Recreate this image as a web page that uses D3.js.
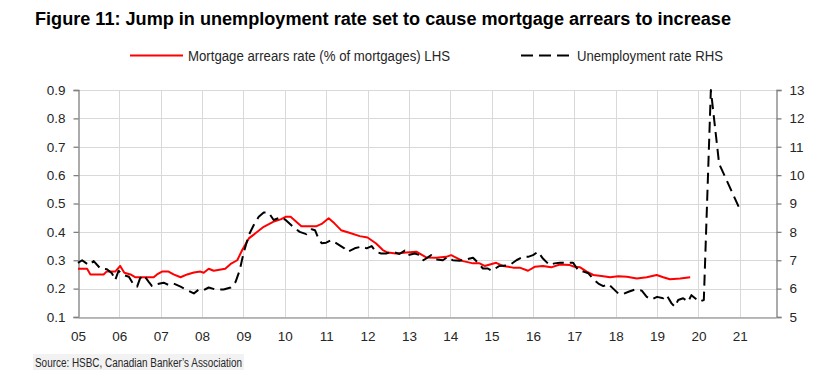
<!DOCTYPE html>
<html><head><meta charset="utf-8">
<script src="https://cdn.jsdelivr.net/npm/d3@7"></script>
<style>
html,body{margin:0;padding:0;background:#fff;}
svg{display:block;font-family:"Liberation Sans",Arial,sans-serif;}
</style></head>
<body>
<svg id="chart" width="819" height="378"></svg>
<script>
// ---- data ----
const titleText = "Figure 11: Jump in unemployment rate set to cause mortgage arrears to increase";
const sourceText = "Source: HSBC, Canadian Banker\u2019s Association";
const seriesNames = ["Mortgage arrears rate (% of mortgages) LHS", "Unemployment rate RHS"];
const xTickYears = [2005,2006,2007,2008,2009,2010,2011,2012,2013,2014,2015,2016,2017,2018,2019,2020,2021];
const xTickLabels = ["05","06","07","08","09","10","11","12","13","14","15","16","17","18","19","20","21"];
const leftTicks = [0.1,0.2,0.3,0.4,0.5,0.6,0.7,0.8,0.9];
const rightTicks = [5,6,7,8,9,10,11,12,13];

const arrearsDates = [2005.00,2005.22,2005.30,2005.62,2005.69,2005.90,2006.02,2006.12,2006.27,2006.39,2006.83,2006.91,
  2007.03,2007.19,2007.31,2007.48,2007.64,2007.80,2007.96,2008.04,2008.16,2008.28,2008.56,2008.69,2008.85,2008.97,
  2009.13,2009.29,2009.49,2009.73,2009.90,2010.02,2010.14,2010.40,2010.77,2010.89,2011.06,2011.20,2011.36,2011.56,
  2011.81,2012.00,2012.20,2012.37,2012.49,2012.69,2012.94,2013.18,2013.42,2013.66,2013.90,2014.02,2014.31,2014.55,
  2014.71,2014.83,2015.11,2015.27,2015.52,2015.68,2015.88,2016.04,2016.24,2016.44,2016.65,2016.89,2017.00,2017.14,
  2017.30,2017.46,2017.70,2017.86,2018.06,2018.27,2018.51,2018.75,2018.99,2019.15,2019.31,2019.56,2019.80];
const arrearsValues = [0.27,0.27,0.25,0.25,0.26,0.26,0.28,0.256,0.25,0.24,0.24,0.25,
  0.26,0.26,0.25,0.24,0.25,0.257,0.26,0.256,0.27,0.263,0.27,0.287,0.30,0.336,
  0.377,0.395,0.418,0.436,0.444,0.453,0.453,0.42,0.42,0.428,0.448,0.43,0.406,0.397,
  0.385,0.38,0.36,0.336,0.327,0.324,0.327,0.33,0.31,0.309,0.312,0.318,0.297,0.289,
  0.289,0.28,0.291,0.28,0.274,0.274,0.263,0.277,0.28,0.275,0.285,0.283,0.277,0.275,
  0.26,0.248,0.244,0.24,0.244,0.242,0.236,0.24,0.248,0.24,0.233,0.236,0.24];

const unempDates = [2005.00,2005.10,2005.26,2005.38,2005.54,2005.70,2005.82,2005.90,2005.98,2006.10,2006.23,2006.35,
  2006.43,2006.50,2006.59,2006.71,2006.79,2006.91,2007.07,2007.19,2007.31,2007.48,2007.64,2007.80,2007.92,2008.04,
  2008.16,2008.32,2008.52,2008.69,2008.81,2008.91,2009.00,2009.13,2009.25,2009.37,2009.49,2009.61,2009.73,2009.90,
  2010.02,2010.20,2010.36,2010.52,2010.65,2010.73,2010.81,2010.89,2011.00,2011.12,2011.28,2011.44,2011.52,2011.69,
  2011.85,2011.98,2012.10,2012.20,2012.33,2012.45,2012.61,2012.77,2012.90,2012.98,2013.14,2013.26,2013.35,2013.54,
  2013.66,2013.82,2013.94,2014.06,2014.23,2014.39,2014.55,2014.67,2014.79,2014.91,2015.00,2015.19,2015.44,2015.60,
  2015.76,2015.88,2016.00,2016.12,2016.24,2016.40,2016.52,2016.65,2016.97,2017.10,2017.22,2017.34,2017.46,2017.58,
  2017.70,2017.82,2017.94,2018.06,2018.18,2018.31,2018.47,2018.63,2018.75,2018.87,2019.00,2019.15,2019.23,2019.35,
  2019.43,2019.51,2019.63,2019.75,2019.83,2019.92,2020.02,2020.13,2020.30,2020.50,2021.00];
const unempValues = [6.91,7.0,6.83,6.97,6.71,6.68,6.54,6.3,6.63,6.48,6.42,6.13,
  6.07,6.36,6.48,6.24,6.09,6.16,6.21,6.13,6.18,6.07,5.95,5.83,5.97,5.95,
  6.04,5.97,5.97,6.04,6.24,6.65,7.24,7.89,8.24,8.53,8.68,8.68,8.42,8.51,
  8.42,8.18,8.0,7.92,8.09,8.06,7.77,7.6,7.62,7.71,7.57,7.42,7.3,7.42,
  7.48,7.42,7.5,7.3,7.24,7.24,7.3,7.22,7.34,7.18,7.24,7.18,7.0,7.18,
  7.03,7.0,7.12,7.0,6.98,7.03,7.09,6.91,6.71,6.71,6.63,6.8,6.83,7.0,
  7.12,7.12,7.18,7.3,7.06,6.83,6.89,6.91,6.91,6.63,6.6,6.54,6.33,6.18,
  6.09,6.16,6.0,5.83,5.81,5.89,5.97,5.93,5.71,5.62,5.71,5.66,5.77,5.48,
  5.36,5.6,5.66,5.54,5.77,5.66,5.54,5.6,13.0,10.4,8.8];

// ---- layout ----
const svg = d3.select("#chart");
const L = 78, R = 776, T = 90, B = 317;
const x = d3.scaleLinear().domain([2005, 2021.875]).range([L, R]);
const yL = d3.scaleLinear().domain([0.1, 0.9]).range([B, T]);
const yR = d3.scaleLinear().domain([5, 13]).range([B, T]);
const gridColor = "#d9d9d9", axisColor = "#7f7f7f", textColor = "#262626";

// title
svg.append("text").attr("x", 35).attr("y", 25)
  .attr("font-size", 18).attr("font-weight", "bold").attr("fill", "#000")
  .attr("textLength", 696).attr("lengthAdjust", "spacingAndGlyphs")
  .text(titleText);

// legend
svg.append("line").attr("x1", 130).attr("x2", 183).attr("y1", 55.5).attr("y2", 55.5)
  .attr("stroke", "#ff0000").attr("stroke-width", 2);
svg.append("text").attr("x", 188).attr("y", 61).attr("font-size", 14).attr("fill", textColor)
  .attr("textLength", 262).attr("lengthAdjust", "spacingAndGlyphs").text(seriesNames[0]);
svg.append("line").attr("x1", 521).attr("x2", 572).attr("y1", 55.5).attr("y2", 55.5)
  .attr("stroke", "#000").attr("stroke-width", 2).attr("stroke-dasharray", "12,6");
svg.append("text").attr("x", 577).attr("y", 61).attr("font-size", 14).attr("fill", textColor)
  .attr("textLength", 146).attr("lengthAdjust", "spacingAndGlyphs").text(seriesNames[1]);

// gridlines
const g = svg.append("g");
g.selectAll("line.h").data(leftTicks).join("line")
  .attr("x1", L).attr("x2", R).attr("y1", d => Math.round(yL(d)) + 0.5).attr("y2", d => Math.round(yL(d)) + 0.5)
  .attr("stroke", gridColor).attr("stroke-width", 1);
g.selectAll("line.v").data(xTickYears.slice(1)).join("line")
  .attr("x1", d => Math.round(x(d)) + 0.5).attr("x2", d => Math.round(x(d)) + 0.5).attr("y1", T).attr("y2", B)
  .attr("stroke", gridColor).attr("stroke-width", 1);

// axes
const leftAxis = d3.axisLeft(yL).tickValues(leftTicks).tickFormat(d3.format(".1f")).tickSize(5).tickPadding(8);
const gl = svg.append("g").attr("transform", `translate(${L + 0.5},0)`).call(leftAxis);
const rightAxis = d3.axisRight(yR).tickValues(rightTicks).tickFormat(d3.format("d")).tickSize(5).tickPadding(8);
const gr = svg.append("g").attr("transform", `translate(${R + 0.5},0)`).call(rightAxis);
const bottomAxis = d3.axisBottom(x).tickValues(xTickYears).tickFormat((d, i) => xTickLabels[i]).tickSize(0).tickPadding(14);
const gb = svg.append("g").attr("transform", `translate(0,${B + 0.5})`).call(bottomAxis);
[gl, gr, gb].forEach(a => {
  a.select(".domain").attr("stroke", axisColor).attr("stroke-width", 1.3);
  a.selectAll(".tick line").attr("stroke", axisColor).attr("stroke-width", 1.3);
  a.selectAll(".tick text").attr("font-size", 13.5).attr("fill", textColor)
    .attr("font-family", "'Liberation Sans',Arial,sans-serif");
});
gb.select(".domain").attr("stroke", "#a6a6a6");

// lines
const arrears = arrearsDates.map((d, i) => [d, arrearsValues[i]]);
const unemp = unempDates.map((d, i) => [d, unempValues[i]]);
svg.append("path").datum(arrears)
  .attr("d", d3.line().x(d => x(d[0])).y(d => yL(d[1])))
  .attr("fill", "none").attr("stroke", "#ff0000").attr("stroke-width", 2).attr("stroke-linejoin", "round");
svg.append("path").datum(unemp)
  .attr("d", d3.line().x(d => x(d[0])).y(d => yR(d[1])))
  .attr("fill", "none").attr("stroke", "#000").attr("stroke-width", 2)
  .attr("stroke-dasharray", "11,6").attr("stroke-linejoin", "round");

// source
svg.append("rect").attr("x", 33).attr("y", 354).attr("width", 211).attr("height", 16).attr("fill", "#f2f2f2");
svg.append("text").attr("x", 35).attr("y", 366.5).attr("font-size", 12).attr("fill", "#262626")
  .attr("textLength", 207).attr("lengthAdjust", "spacingAndGlyphs").text(sourceText);
</script>
</body></html>
